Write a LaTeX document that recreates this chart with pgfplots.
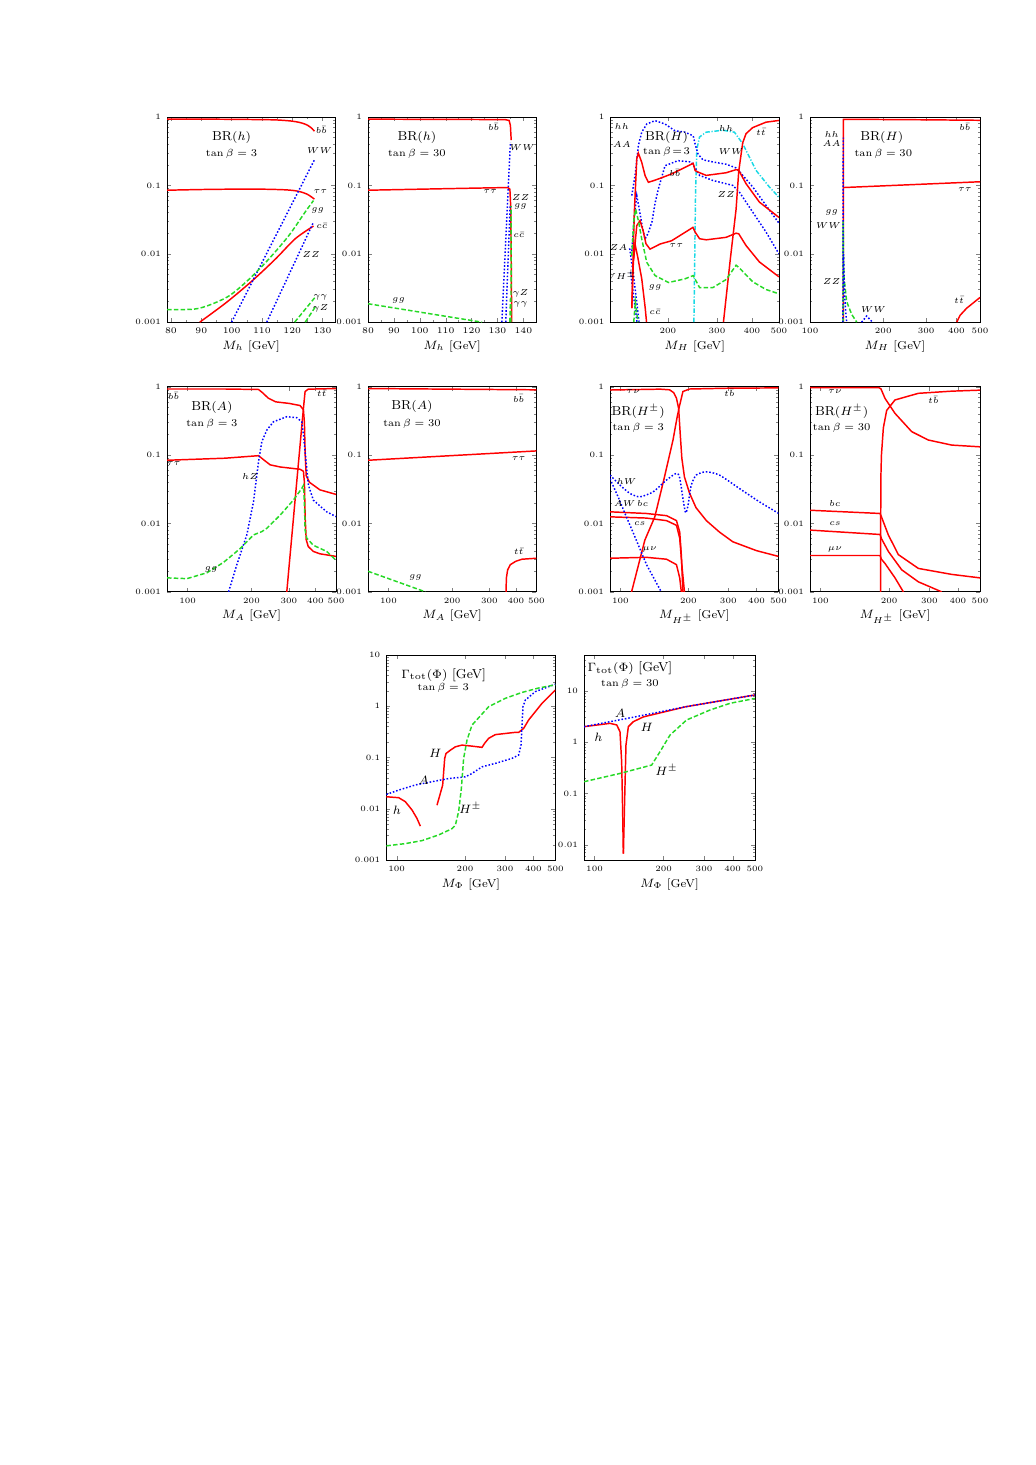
\documentclass[border=0pt]{standalone}
\usepackage{fontspec}
\usepackage{pgfplots}
\pgfplotsset{compat=1.18}
\definecolor{mgreen}{rgb}{0.15,0.85,0.15}
\definecolor{mcyan}{rgb}{0.1,0.85,0.9}
\pgfplotsset{every axis/.append style={scale only axis, height=118bp, anchor=north west,
    tick align=inside, tick pos=both, major tick length=2.4bp, minor tick length=1.4bp,
    ticklabel style={font=\fontsize{4.7}{5}\selectfont},
    xlabel style={font=\fontsize{6.6}{7}\selectfont, yshift=3pt},
    axis line style={line width=0.5pt}}}
\tikzset{rl/.style={red, line width=0.85pt},
  bl/.style={blue, line width=0.85pt, dash pattern=on 0.9pt off 1.1pt},
  gl/.style={mgreen, line width=0.85pt, dash pattern=on 2.6pt off 1.3pt},
  cl/.style={mcyan, line width=0.85pt, dash pattern=on 2.6pt off 1pt on 0.7pt off 1pt},
  lab/.style={font=\fontsize{5}{6}\selectfont, inner sep=0pt},
  ttl/.style={font=\fontsize{7.5}{8}\selectfont, inner sep=0pt},
  tbs/.style={font=\fontsize{5.8}{6.5}\selectfont, inner sep=0pt},
  big/.style={font=\fontsize{7}{8}\selectfont, inner sep=0pt}}
\begin{document}
\begin{tikzpicture}
\path[use as bounding box] (0,0) rectangle (595.3bp,-842.6bp);

% ---- BR(h), tan beta = 3
\begin{axis}[ymode=log, ymin=0.001, ymax=1, ytick={0.001,0.01,0.1,1}, yticklabels={0.001,0.01,0.1,1},
  minor ytick={0.002,0.003,0.004,0.005,0.006,0.007,0.008,0.009,0.02,0.03,0.04,0.05,0.06,0.07,0.08,0.09,0.2,0.3,0.4,0.5,0.6,0.7,0.8,0.9},
  at={(96.05bp,-67.29bp)}, width=96.8bp, xmin=78.7, xmax=134.2,
  xtick={80,90,...,130}, minor x tick num=1, xlabel={$M_h$ [GeV]}]
\addplot[rl, smooth] coordinates {(78.7,0.93)(90,0.93)(100,0.925)(110,0.915)(115,0.905)(120,0.87)(123,0.82)(125,0.76)(126.5,0.68)(127.3,0.62)};
\addplot[rl, smooth] coordinates {(78.7,0.085)(90,0.087)(100,0.088)(110,0.088)(118,0.086)(122,0.082)(125,0.074)(127.3,0.063)};
\addplot[rl, smooth] coordinates {(89.5,0.001)(98.4,0.00196)(107,0.0041)(114.6,0.0085)(121,0.0166)(127,0.0254)};
\addplot[bl] coordinates {(100,0.001)(127.5,0.245)};
\addplot[bl] coordinates {(111.6,0.001)(127,0.029)};
\addplot[gl, smooth] coordinates {(78.7,0.00153)(87.6,0.00155)(93,0.0018)(99.4,0.00246)(105.9,0.0043)(112.4,0.0085)(118.9,0.0185)(124.3,0.041)(127,0.06)};
\addplot[gl] coordinates {(120.8,0.001)(127.5,0.0023)};
\addplot[gl] coordinates {(124.3,0.001)(127.7,0.0017)};
\node[ttl] at (axis cs:100,0.51) {BR$(h)$};
\node[tbs] at (axis cs:100,0.29) {$\tan\beta=3$};
\node[lab] at (axis cs:129.6,0.64) {$b\bar b$};
\node[lab] at (axis cs:129,0.32) {$WW$};
\node[lab] at (axis cs:129.3,0.082) {$\tau\tau$};
\node[lab] at (axis cs:128.4,0.043) {$gg$};
\node[lab] at (axis cs:129.8,0.0254) {$c\bar c$};
\node[lab] at (axis cs:126.2,0.0098) {$ZZ$};
\node[lab] at (axis cs:129.3,0.0023) {$\gamma\gamma$};
\node[lab] at (axis cs:129.3,0.0016) {$\gamma Z$};
\end{axis}

% ---- BR(h), tan beta = 30
\begin{axis}[ymode=log, ymin=0.001, ymax=1, ytick={0.001,0.01,0.1,1}, yticklabels={0.001,0.01,0.1,1},
  minor ytick={0.002,0.003,0.004,0.005,0.006,0.007,0.008,0.009,0.02,0.03,0.04,0.05,0.06,0.07,0.08,0.09,0.2,0.3,0.4,0.5,0.6,0.7,0.8,0.9},
  at={(211.66bp,-67.29bp)}, width=96.8bp, xmin=80, xmax=145,
  xtick={80,90,...,140}, minor x tick num=1, xlabel={$M_h$ [GeV]}]
\addplot[rl] coordinates {(80,0.93)(100,0.925)(120,0.92)(133,0.915)(134.5,0.89)(135,0.75)(135.3,0.46)};
\addplot[rl] coordinates {(80,0.085)(100,0.088)(120,0.091)(134,0.093)(134.8,0.088)(135.1,0.05)(135.3,0.01)(135.5,0.001)};
\addplot[bl] coordinates {(131.7,0.001)(135,0.43)};
\addplot[bl] coordinates {(133.2,0.001)(134.9,0.051)};
\addplot[gl] coordinates {(80,0.00186)(124,0.001)};
\addplot[gl] coordinates {(135.2,0.001)(135.3,0.05)};
\addplot[gl] coordinates {(134.8,0.001)(135.0,0.0022)};
\node[ttl] at (axis cs:98.9,0.51) {BR$(h)$};
\node[tbs] at (axis cs:98.9,0.29) {$\tan\beta=30$};
\node[lab] at (axis cs:128.5,0.71) {$b\bar b$};
\node[lab] at (axis cs:139.6,0.36) {$WW$};
\node[lab] at (axis cs:127.2,0.082) {$\tau\tau$};
\node[lab] at (axis cs:138.9,0.067) {$ZZ$};
\node[lab] at (axis cs:138.9,0.049) {$gg$};
\node[lab] at (axis cs:138.3,0.019) {$c\bar c$};
\node[lab] at (axis cs:138.9,0.0026) {$\gamma Z$};
\node[lab] at (axis cs:138.9,0.0018) {$\gamma\gamma$};
\node[lab] at (axis cs:91.8,0.0021) {$gg$};
\end{axis}

% ---- BR(H), tan beta = 3
\begin{axis}[ymode=log, ymin=0.001, ymax=1, ytick={0.001,0.01,0.1,1}, yticklabels={0.001,0.01,0.1,1},
  minor ytick={0.002,0.003,0.004,0.005,0.006,0.007,0.008,0.009,0.02,0.03,0.04,0.05,0.06,0.07,0.08,0.09,0.2,0.3,0.4,0.5,0.6,0.7,0.8,0.9},
  xmode=log, at={(351.1bp,-67.29bp)}, width=96.9bp, xmin=124.6, xmax=500,
  xtick={200,300,400,500}, xticklabels={200,300,400,500}, xlabel={$M_H$ [GeV]}]
\addplot[cl] coordinates {(248,0.001)(249.3,0.0054)(251.5,0.089)(254.1,0.34)(259.8,0.51)(274.4,0.6)(314.8,0.64)(346.4,0.6)(370.9,0.407)(413.9,0.166)(461.8,0.095)(498.6,0.068)};
\addplot[bl] coordinates {(148.6,0.071)(153,0.15)(156.8,0.38)(161.3,0.6)(168.1,0.79)(180,0.885)(195.4,0.79)(212,0.63)(230.3,0.6)(246.5,0.53)(249.8,0.42)(256.2,0.29)(267,0.237)(289.9,0.22)(323.5,0.204)(351.2,0.18)(360.8,0.16)(402.7,0.095)(449.4,0.051)(500,0.028)};
\addplot[bl] coordinates {(148.6,0.011)(151.7,0.035)(154.8,0.071)(158,0.045)(162,0.025)(165.8,0.0164)(170,0.02)(175.4,0.029)(180,0.055)(184.9,0.088)(195.4,0.194)(217.5,0.23)(242.5,0.22)(249.3,0.185)(259.8,0.14)(289.9,0.118)(341.7,0.1)(360.8,0.08)(402.7,0.0407)(449.4,0.0208)(500,0.01)};
\addplot[bl] coordinates {(146,0.012)(150.1,0.0054)(154.3,0.0022)(157.7,0.001)};
\addplot[bl] coordinates {(147,0.0054)(152.2,0.0018)(155.1,0.001)};
\addplot[rl] coordinates {(148.6,0.0016)(151.7,0.04)(154.8,0.243)(156.8,0.297)(161.3,0.217)(165.8,0.139)(170.3,0.111)(177.5,0.117)(184.9,0.124)(206.3,0.147)(246.5,0.21)(250.5,0.165)(256.2,0.157)(274.4,0.14)(323.5,0.153)(351.2,0.17)(358.9,0.166)(381.2,0.106)(425.5,0.057)(500,0.034)};
\addplot[rl] coordinates {(148.6,0.0016)(150.5,0.0075)(154.8,0.0258)(159,0.0305)(163,0.022)(167,0.014)(172.7,0.0117)(187.7,0.0139)(206.3,0.0155)(246,0.0243)(250.5,0.0208)(259.8,0.0166)(274.4,0.016)(323.5,0.0174)(351.2,0.02)(358.9,0.0196)(381.2,0.0132)(425.5,0.0076)(500,0.0046)};
\addplot[rl] coordinates {(150.5,0.008)(152.6,0.0138)(156,0.009)(161.3,0.0043)(166,0.0016)(167.8,0.001)};
\addplot[rl] coordinates {(316.4,0.001)(335,0.0085)(351.2,0.045)(358.9,0.16)(370.9,0.42)(381.2,0.57)(402.7,0.7)(449.4,0.84)(500,0.89)};
\addplot[gl] coordinates {(148.6,0.0093)(151,0.03)(153.4,0.045)(157,0.03)(161.3,0.0164)(168.1,0.0075)(180,0.0048)(201.2,0.0038)(230.3,0.0043)(246.5,0.0048)(250,0.0043)(259.8,0.0032)(289.9,0.0032)(323.5,0.0042)(351.2,0.0068)(360.8,0.0062)(402.7,0.0039)(449.4,0.003)(500,0.0026)};
\addplot[gl] coordinates {(151,0.001)(153,0.002)(156.4,0.001)};
\node[lab] at (axis cs:136.8,0.73) {$hh$};
\node[lab] at (axis cs:136.8,0.4) {$AA$};
\node[ttl] at (axis cs:198,0.5) {BR$(H)$};
\node[tbs] at (axis cs:198,0.31) {$\tan\beta\!=\!3$};
\node[lab] at (axis cs:323.5,0.675) {$hh$};
\node[lab] at (axis cs:431,0.6) {$t\bar t$};
\node[lab] at (axis cs:337,0.31) {$WW$};
\node[lab] at (axis cs:212,0.152) {$b\bar b$};
\node[lab] at (axis cs:323.5,0.073) {$ZZ$};
\node[lab] at (axis cs:133.1,0.0125) {$ZA$};
\node[lab] at (axis cs:214.4,0.0131) {$\tau\tau$};
\node[lab] at (axis cs:134.9,0.0049) {$WH^{\pm}$};
\node[lab] at (axis cs:180,0.0032) {$gg$};
\node[lab] at (axis cs:180,0.0014) {$c\bar c$};
\end{axis}

% ---- BR(H), tan beta = 30
\begin{axis}[ymode=log, ymin=0.001, ymax=1, ytick={0.001,0.01,0.1,1}, yticklabels={0.001,0.01,0.1,1},
  minor ytick={0.002,0.003,0.004,0.005,0.006,0.007,0.008,0.009,0.02,0.03,0.04,0.05,0.06,0.07,0.08,0.09,0.2,0.3,0.4,0.5,0.6,0.7,0.8,0.9},
  xmode=log, xtick={100,200,300,400,500}, xticklabels={100,200,300,400,500},
  at={(465.87bp,-67.29bp)}, width=97.8bp, xmin=100, xmax=500, xlabel={$M_H$ [GeV]}]
\addplot[rl] coordinates {(137,0.001)(137.05,0.3)(137.2,0.92)(150,0.925)(300,0.91)(500,0.895)};
\addplot[rl] coordinates {(137.2,0.093)(500,0.113)};
\addplot[rl] coordinates {(401,0.001)(414,0.00126)(440.5,0.0016)(500,0.0023)};
\addplot[gl] coordinates {(136.8,0.001)(136.9,0.03)(137.2,0.01)(138,0.0045)(141.5,0.002)(148.4,0.0013)(155.6,0.001)};
\addplot[bl] coordinates {(136.6,0.001)(136.8,0.01)(136.9,0.1)(137,0.5)};
\addplot[bl] coordinates {(137.3,0.01)(138.5,0.003)(140,0.0015)(141.5,0.001)};
\addplot[bl] coordinates {(163,0.001)(171,0.00123)(180.5,0.001)};
\node[lab] at (axis cs:122.8,0.55) {$hh$};
\node[lab] at (axis cs:122.8,0.407) {$AA$};
\node[ttl] at (axis cs:197.3,0.51) {BR$(H)$};
\node[tbs] at (axis cs:200.3,0.29) {$\tan\beta=30$};
\node[lab] at (axis cs:433.5,0.714) {$b\bar b$};
\node[lab] at (axis cs:433.5,0.088) {$\tau\tau$};
\node[lab] at (axis cs:122.8,0.04) {$gg$};
\node[lab] at (axis cs:119,0.026) {$WW$};
\node[lab] at (axis cs:122.8,0.0039) {$ZZ$};
\node[lab] at (axis cs:182.3,0.00155) {$WW$};
\node[lab] at (axis cs:410,0.0021) {$t\bar t$};
\end{axis}

% ---- BR(A), tan beta = 3
\begin{axis}[ymode=log, ymin=0.001, ymax=1, ytick={0.001,0.01,0.1,1}, yticklabels={0.001,0.01,0.1,1},
  minor ytick={0.002,0.003,0.004,0.005,0.006,0.007,0.008,0.009,0.02,0.03,0.04,0.05,0.06,0.07,0.08,0.09,0.2,0.3,0.4,0.5,0.6,0.7,0.8,0.9},
  xmode=log, xtick={100,200,300,400,500}, xticklabels={100,200,300,400,500},
  at={(96.05bp,-222.4bp)}, width=97.2bp, xmin=80, xmax=500, xlabel={$M_A$ [GeV]}]
\addplot[rl] coordinates {(80,0.925)(150,0.925)(215.8,0.91)(225,0.82)(240,0.68)(260,0.6)(300,0.57)(338.7,0.53)(351.2,0.46)(355,0.3)(358,0.1)(362,0.05)(375,0.04)(420,0.031)(500,0.0266)};
\addplot[rl] coordinates {(80,0.084)(150,0.09)(215.8,0.098)(231.9,0.082)(244.8,0.072)(272.7,0.067)(338.7,0.062)(351.2,0.058)(355,0.04)(358,0.012)(362,0.0058)(370,0.0046)(391,0.0039)(420,0.0036)(500,0.0033)};
\addplot[rl] coordinates {(293.2,0.001)(315.1,0.0118)(326.7,0.041)(338.7,0.14)(351.2,0.48)(357.6,0.85)(370,0.92)(500,0.94)};
\addplot[bl] coordinates {(156,0.001)(170.6,0.0025)(190.1,0.0068)(204.4,0.0208)(215.8,0.08)(223.7,0.157)(236.1,0.232)(253.8,0.307)(293.2,0.364)(326.7,0.352)(344.9,0.307)(351.2,0.2)(357.6,0.112)(370.7,0.0364)(391.2,0.0219)(451.9,0.0148)(500,0.0126)};
\addplot[gl] coordinates {(80,0.0016)(99.3,0.00156)(123.3,0.0019)(147.7,0.0027)(177,0.0043)(204.4,0.0068)(223.7,0.0076)(236.1,0.0085)(272.7,0.0132)(315.1,0.022)(344.9,0.0325)(351.2,0.036)(355,0.02)(357.6,0.008)(364.1,0.0061)(391.2,0.0048)(451.9,0.0039)(500,0.0029)};
\node[lab] at (axis cs:86,0.74) {$b\bar b$};
\node[ttl] at (axis cs:130.2,0.49) {BR$(A)$};
\node[tbs] at (axis cs:130.2,0.29) {$\tan\beta=3$};
\node[lab] at (axis cs:428,0.8) {$t\bar t$};
\node[lab] at (axis cs:86,0.075) {$\tau\tau$};
\node[lab] at (axis cs:197.2,0.049) {$hZ$};
\node[lab] at (axis cs:129,0.0021) {$gg$};
\end{axis}

% ---- BR(A), tan beta = 30
\begin{axis}[ymode=log, ymin=0.001, ymax=1, ytick={0.001,0.01,0.1,1}, yticklabels={0.001,0.01,0.1,1},
  minor ytick={0.002,0.003,0.004,0.005,0.006,0.007,0.008,0.009,0.02,0.03,0.04,0.05,0.06,0.07,0.08,0.09,0.2,0.3,0.4,0.5,0.6,0.7,0.8,0.9},
  xmode=log, xtick={100,200,300,400,500}, xticklabels={100,200,300,400,500},
  at={(211.66bp,-222.4bp)}, width=96.8bp, xmin=80, xmax=500, xlabel={$M_A$ [GeV]}]
\addplot[rl] coordinates {(80,0.94)(500,0.9)};
\addplot[rl] coordinates {(80,0.084)(500,0.115)};
\addplot[rl] coordinates {(359.5,0.001)(361,0.0016)(366,0.0021)(376.9,0.0025)(400,0.0028)(427.9,0.003)(500,0.0031)};
\addplot[gl] coordinates {(80,0.002)(149.4,0.001)};
\node[lab] at (axis cs:412.7,0.675) {$b\bar b$};
\node[ttl] at (axis cs:129.2,0.51) {BR$(A)$};
\node[tbs] at (axis cs:129.2,0.29) {$\tan\beta=30$};
\node[lab] at (axis cs:412.7,0.089) {$\tau\tau$};
\node[lab] at (axis cs:412.7,0.0039) {$t\bar t$};
\node[lab] at (axis cs:134,0.0016) {$gg$};
\end{axis}

% ---- BR(H+-), tan beta = 3
\begin{axis}[ymode=log, ymin=0.001, ymax=1, ytick={0.001,0.01,0.1,1}, yticklabels={0.001,0.01,0.1,1},
  minor ytick={0.002,0.003,0.004,0.005,0.006,0.007,0.008,0.009,0.02,0.03,0.04,0.05,0.06,0.07,0.08,0.09,0.2,0.3,0.4,0.5,0.6,0.7,0.8,0.9},
  xmode=log, xtick={100,200,300,400,500}, xticklabels={100,200,300,400,500},
  at={(350.84bp,-222.4bp)}, width=96.9bp, xmin=90, xmax=500, xlabel={$M_{H^\pm}$ [GeV]}]
\addplot[rl] coordinates {(112.1,0.001)(128.3,0.0057)(142,0.0125)(156,0.045)(170.9,0.166)(178,0.35)(182,0.5)(189.1,0.85)(202.3,0.925)(300,0.95)(500,0.96)};
\addplot[rl] coordinates {(90,0.894)(150,0.92)(165,0.9)(172,0.82)(177,0.68)(181,0.48)(184,0.2)(187,0.09)(192,0.048)(202,0.028)(216,0.017)(240,0.011)(274,0.0075)(314,0.0054)(400,0.004)(500,0.0033)};
\addplot[rl] coordinates {(90,0.0148)(130,0.014)(160,0.013)(177,0.011)(183,0.0075)(186,0.0035)(189,0.001)};
\addplot[rl] coordinates {(90,0.0125)(130,0.012)(160,0.011)(177,0.0094)(183,0.0061)(187,0.0025)(192,0.001)};
\addplot[rl] coordinates {(90,0.0031)(130,0.0032)(160,0.003)(177,0.0025)(183,0.0016)(186,0.001)};
\addplot[bl, smooth, tension=0.4] coordinates {(90,0.051)(99.6,0.0364)(110.3,0.0275)(122,0.0245)(139.6,0.029)(159.7,0.043)(176.8,0.054)(182.8,0.047)(189.1,0.0232)(194.3,0.0143)(198.9,0.018)(205.7,0.036)(216.4,0.051)(239.5,0.057)(274.1,0.051)(335.8,0.0325)(411,0.0208)(500,0.0141)};
\addplot[bl] coordinates {(90,0.045)(98,0.024)(104.8,0.014)(115.9,0.0064)(130.5,0.0025)(151.7,0.001)};
\node[lab] at (axis cs:114,0.84) {$\tau\nu$};
\node[lab] at (axis cs:303.4,0.8) {$t\bar b$};
\node[ttl] at (axis cs:120,0.43) {BR$(H^\pm)$};
\node[tbs] at (axis cs:120,0.246) {$\tan\beta=3$};
\node[lab] at (axis cs:106.6,0.041) {$hW$};
\node[lab] at (axis cs:104.5,0.0197) {$AW$};
\node[lab] at (axis cs:125.5,0.0197) {$bc$};
\node[lab] at (axis cs:121.9,0.0098) {$cs$};
\node[lab] at (axis cs:134.9,0.0041) {$\mu\nu$};
\end{axis}

% ---- BR(H+-), tan beta = 30
\begin{axis}[ymode=log, ymin=0.001, ymax=1, ytick={0.001,0.01,0.1,1}, yticklabels={0.001,0.01,0.1,1},
  minor ytick={0.002,0.003,0.004,0.005,0.006,0.007,0.008,0.009,0.02,0.03,0.04,0.05,0.06,0.07,0.08,0.09,0.2,0.3,0.4,0.5,0.6,0.7,0.8,0.9},
  xmode=log, xtick={100,200,300,400,500}, xticklabels={100,200,300,400,500},
  at={(465.87bp,-222.4bp)}, width=97.8bp, xmin=90, xmax=500, xlabel={$M_{H^\pm}$ [GeV]}]
\addplot[rl] coordinates {(90,0.97)(180,0.97)(184,0.93)(191.8,0.675)(212.1,0.407)(251,0.22)(296.9,0.166)(375.6,0.14)(500,0.132)};
\addplot[rl] coordinates {(183.5,0.001)(183.6,0.01)(184,0.05)(185,0.1)(188.6,0.25)(195,0.45)(212.1,0.64)(268.5,0.8)(375.6,0.86)(500,0.89)};
\addplot[rl] coordinates {(90,0.0156)(182.4,0.014)(185,0.0125)(198.3,0.0068)(219.4,0.0035)(268.5,0.0022)(375.6,0.0018)(500,0.0016)};
\addplot[rl] coordinates {(90,0.008)(182.4,0.0069)(185,0.006)(198.3,0.0039)(226.9,0.0021)(268.5,0.0014)(339.6,0.001)};
\addplot[rl] coordinates {(90,0.0034)(182.4,0.0034)(185,0.003)(191.8,0.0026)(212.1,0.0016)(230.7,0.001)};
\node[lab] at (axis cs:115.8,0.84) {$\tau\nu$};
\node[lab] at (axis cs:312.3,0.64) {$t\bar b$};
\node[ttl] at (axis cs:123.9,0.43) {BR$(H^\pm)$};
\node[tbs] at (axis cs:123.9,0.246) {$\tan\beta=30$};
\node[lab] at (axis cs:115.8,0.0196) {$bc$};
\node[lab] at (axis cs:115.8,0.01) {$cs$};
\node[lab] at (axis cs:115.8,0.0041) {$\mu\nu$};
\end{axis}

% ---- Gamma_tot, tan beta = 3
\begin{axis}[ymode=log, ymin=0.001, ymax=10, ytick={0.001,0.01,0.1,1,10}, yticklabels={0.001,0.01,0.1,1,10},
  minor ytick={0.002,0.003,0.004,0.005,0.006,0.007,0.008,0.009,0.02,0.03,0.04,0.05,0.06,0.07,0.08,0.09,0.2,0.3,0.4,0.5,0.6,0.7,0.8,0.9,2,3,4,5,6,7,8,9},
  xmode=log, xtick={100,200,300,400,500}, xticklabels={100,200,300,400,500},
  at={(222.2bp,-376.7bp)}, width=97.2bp, xmin=90, xmax=500, xlabel={$M_{\Phi}$ [GeV]}]
\addplot[rl] coordinates {(90,0.0172)(102,0.0165)(109.1,0.0138)(116.8,0.0095)(122.8,0.0065)(127.1,0.0046)};
\addplot[rl] coordinates {(150.5,0.0118)(159.4,0.029)(162.7,0.096)(164.9,0.12)(172.3,0.139)(181.3,0.162)(194,0.175)(214.7,0.167)(237.6,0.158)(244.1,0.19)(254.2,0.237)(272,0.28)(333.1,0.31)(344.6,0.31)(362.5,0.37)(381.4,0.54)(436.8,1.14)(500,2.07)};
\addplot[bl] coordinates {(90,0.0191)(102,0.0232)(120.8,0.0292)(143,0.0338)(169.4,0.039)(200.6,0.042)(214.7,0.049)(237.6,0.066)(272,0.077)(322.1,0.0964)(344.6,0.112)(352.9,0.175)(356.5,0.43)(360.1,0.98)(368.8,1.32)(408.2,1.93)(467,2.41)(500,2.68)};
\addplot[gl] coordinates {(90,0.0019)(109.1,0.0021)(129.2,0.0024)(153,0.0031)(175.2,0.0041)(181.3,0.0048)(187.5,0.0089)(192.7,0.025)(197.2,0.0964)(204.1,0.22)(214.7,0.43)(254.2,0.98)(301.1,1.43)(356.5,1.86)(422.2,2.27)(500,2.62)};
\node[ttl] at (axis cs:161,4.07) {$\Gamma_{\rm tot}(\Phi)$ [GeV]};
\node[tbs] at (axis cs:160.5,2.24) {$\tan\beta=3$};
\node[big] at (axis cs:148,0.12) {$H$};
\node[big] at (axis cs:131.4,0.036) {$A$};
\node[big] at (axis cs:100.3,0.0095) {$h$};
\node[big] at (axis cs:211,0.0103) {$H^{\pm}$};
\end{axis}

% ---- Gamma_tot, tan beta = 30
\begin{axis}[ymode=log, ymin=0.005, ymax=50, ytick={0.01,0.1,1,10}, yticklabels={0.01,0.1,1,10},
  minor ytick={0.006,0.007,0.008,0.009,0.02,0.03,0.04,0.05,0.06,0.07,0.08,0.09,0.2,0.3,0.4,0.5,0.6,0.7,0.8,0.9,2,3,4,5,6,7,8,9,20,30,40},
  xmode=log, xtick={100,200,300,400,500}, xticklabels={100,200,300,400,500},
  at={(335.9bp,-376.7bp)}, width=98.3bp, xmin=90, xmax=500, xlabel={$M_{\Phi}$ [GeV]}]
\addplot[rl] coordinates {(90,2.0)(116.8,2.32)(124.9,2.16)(129.1,1.6)(131.3,0.41)(132.6,0.044)(133.5,0.0067)};
\addplot[rl] coordinates {(133.6,0.0067)(134.9,0.044)(137.1,0.877)(140.4,2.0)(147.6,2.5)(163.2,3.1)(250,4.9)(500,8.3)};
\addplot[bl] coordinates {(90,2.0)(150,3.1)(250,4.9)(500,8.3)};
\addplot[gl] coordinates {(90,0.169)(129.1,0.245)(177.4,0.357)(192.9,0.65)(213.2,1.37)(251.9,2.7)(318.4,4.22)(389,5.7)(500,7.1)};
\node[ttl] at (axis cs:142.7,27.5) {$\Gamma_{\rm tot}(\Phi)$ [GeV]};
\node[tbs] at (axis cs:142.7,13.4) {$\tan\beta=30$};
\node[big] at (axis cs:129.1,3.64) {$A$};
\node[big] at (axis cs:103.9,1.22) {$h$};
\node[big] at (axis cs:168.7,1.91) {$H$};
\node[big] at (axis cs:206.1,0.285) {$H^{\pm}$};
\end{axis}
\end{tikzpicture}
\end{document}
